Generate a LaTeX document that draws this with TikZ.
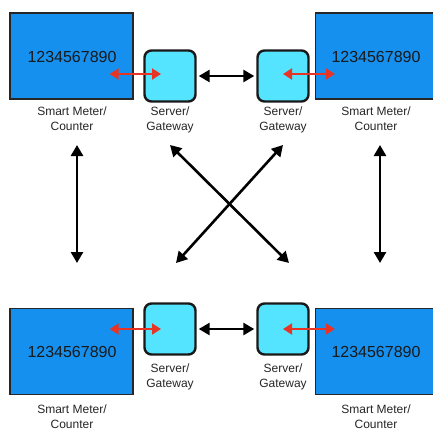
\documentclass[tikz,border=0pt]{standalone}
\usepackage{fontspec}
\setmainfont{Liberation Sans}
\usetikzlibrary{arrows.meta,positioning}
\definecolor{meterblue}{RGB}{22,144,238}
\definecolor{gwcyan}{RGB}{84,228,255}
\definecolor{linkred}{RGB}{232,52,36}
\tikzset{
  meter/.style={draw=black!85, line width=1.3pt, fill=meterblue, minimum width=123pt,
    minimum height=86pt, inner sep=0pt},
  digits/.style={font=\fontsize{16}{18}\selectfont, text=black!90},
  gw/.style={draw=black!90, line width=2.4pt, fill=gwcyan, rounded corners=7pt,
    minimum width=51pt, minimum height=51pt, inner sep=0pt},
  lbl/.style={align=center, font=\fontsize{12}{15}\selectfont, text=black!85},
  blink/.style={{Triangle[length=11pt,width=12pt]}-{Triangle[length=11pt,width=12pt]}, line width=2.6pt},
  rlink/.style={{Triangle[length=9pt,width=11pt]}-{Triangle[length=9pt,width=11pt]}, line width=2pt, linkred},
}

\begin{document}
\begin{tikzpicture}[x=1pt, y=-1pt]
  \useasboundingbox (0,0) rectangle (433,429);
  \clip (0,0) rectangle (433,429);
  \fill[white] (0,0) rectangle (433,429);

  \node[meter] (meterTL) at (71.5,56) {};
  \node[digits] at (72,57) {1234567890};
  \node[meter] (meterTR) at (377,56) {};
  \node[digits] at (376,57) {1234567890};
  \node[meter] (meterBL) at (71.5,351.5) {};
  \node[digits] at (72,352) {1234567890};
  \node[meter] (meterBR) at (377,351.5) {};
  \node[digits] at (376,352) {1234567890};

  \node[gw] (gwTL) at (170,76) {};
  \node[gw] (gwTR) at (283,76) {};
  \node[gw] (gwBL) at (170,329) {};
  \node[gw] (gwBR) at (283,329) {};

  \node[lbl] (lblTL) at (72,118.5) {Smart Meter/\\Counter};
  \node[lbl] (lblTR) at (376,118.5) {Smart Meter/\\Counter};
  \node[lbl] (lblBL) at (72,417) {Smart Meter/\\Counter};
  \node[lbl] (lblBR) at (376,417) {Smart Meter/\\Counter};
  \node[lbl] (sgTL) at (170,119.5) {Server/\\Gateway};
  \node[lbl] (sgTR) at (283,119.5) {Server/\\Gateway};
  \node[lbl] (sgBL) at (170,376.5) {Server/\\Gateway};
  \node[lbl] (sgBR) at (283,376.5) {Server/\\Gateway};

  \coordinate (vTL) at (77,145);
  \coordinate (vBL) at (77,263);
  \coordinate (vTR) at (380,145);
  \coordinate (vBR) at (380,263);
  \coordinate (xTL) at (170,145);
  \coordinate (xBR) at (289,263);
  \coordinate (xTR) at (283,145);
  \coordinate (xBL) at (176,263);

  \draw[blink, shorten <=2pt, shorten >=2pt] (gwTL.east) -- (gwTR.west);
  \draw[blink, shorten <=2pt, shorten >=2pt] (gwBL.east) -- (gwBR.west);
  \draw[blink] (vTL) -- (vBL);
  \draw[blink] (vTR) -- (vBR);
  \draw[blink] (xTL) -- (xBR);
  \draw[blink] (xTR) -- (xBL);

  \draw[rlink] ([xshift=-24pt,yshift=2pt]meterTL.east |- gwTL) -- ([xshift=-9pt,yshift=2pt]gwTL.center);
  \draw[rlink] ([xshift=-24pt]meterBL.east |- gwBL) -- ([xshift=-9pt]gwBL.center);
  \draw[rlink] ([yshift=2pt]gwTR.center) -- ([xshift=20pt,yshift=2pt]meterTR.west |- gwTR);
  \draw[rlink] (gwBR.center) -- ([xshift=20pt]meterBR.west |- gwBR);
\end{tikzpicture}
\end{document}
